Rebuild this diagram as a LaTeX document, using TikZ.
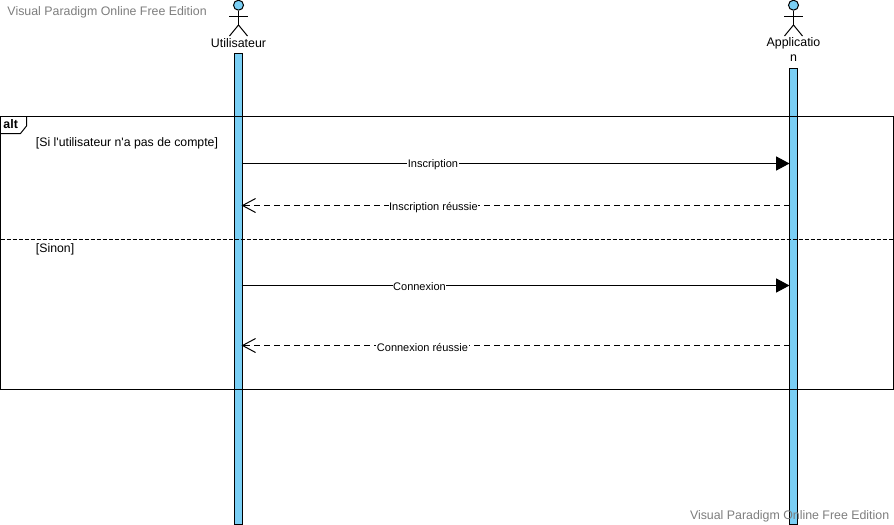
\documentclass[tikz,border=0pt]{standalone}
\usepackage{fontspec}
\setmainfont{Liberation Sans}[Ligatures=TeXOff]
\usetikzlibrary{arrows.meta}
\definecolor{barblue}{RGB}{122,207,245}
\definecolor{markgray}{RGB}{125,125,125}
\tikzset{
    lifebar/.style={draw, fill=barblue, rectangle, minimum width=6pt, inner sep=0pt, outer sep=0pt, anchor=north},
    head/.style={draw, fill=barblue, circle, minimum size=7.5pt, inner sep=0pt},
    msg/.style={fill=white, inner sep=0.4pt, font=\fontsize{8.25}{10}\selectfont},
    guard/.style={anchor=west, inner sep=0pt, font=\fontsize{9.2}{11}\selectfont},
    actorname/.style={inner sep=0pt, font=\fontsize{9.3}{11}\selectfont},
    call/.style={-{Triangle[length=10pt,width=10.5pt]}},
    reply/.style={dashed, dash pattern=on 4.5pt off 3pt, -{Straight Barb[length=9.75pt,width=10.5pt,line width=0.75pt]}},
    watermark/.style={anchor=west, inner sep=0pt, text=markgray, font=\fontsize{9.28}{11}\selectfont}
}

\begin{document}
\begin{tikzpicture}[x=0.75pt,y=-0.75pt,line width=0.75pt]
\useasboundingbox (0,0) rectangle (894,525);

% Lifelines
\node [lifebar, minimum height=353.1pt] (barU) at (238.5,53.5){};
\node [lifebar, minimum height=341.9pt] (barA) at (793.5,68.5){};

% Actor Utilisateur
\node [head] (headU) at (238.5,5.2){};
\coordinate (hipU) at (238.5,25);
\coordinate (handUl) at (229,16);
\coordinate (handUr) at (248,16);
\coordinate (footUl) at (229.5,36);
\coordinate (footUr) at (247.5,36);
\draw (headU) -- (hipU);
\draw (handUl) -- (handUr);
\draw (footUl) -- (hipU) -- (footUr);
\node [actorname] (nameU) at (238.5,43){Utilisateur};

% Actor Application
\node [head] (headA) at (793.5,5.2){};
\coordinate (hipA) at (793.5,25);
\coordinate (handAl) at (784,16);
\coordinate (handAr) at (803,16);
\coordinate (footAl) at (784.5,36);
\coordinate (footAr) at (802.5,36);
\draw (headA) -- (hipA);
\draw (handAl) -- (handAr);
\draw (footAl) -- (hipA) -- (footAr);
\node [actorname] (nameA) at (793.5,43){Applicatio};
\node [actorname] (nameAb) at (793.5,58){n};

% Frame alt
\node [draw, rectangle, minimum width=669.75pt, minimum height=204.4pt, inner sep=0pt, outer sep=0pt, anchor=north west] (frame) at (0.5,116.5){};
\coordinate (tabA) at (26.5,116.5);
\coordinate (tabB) at (26.5,126);
\coordinate (tabC) at (20.5,133.5);
\coordinate (tabD) at (0.5,133.5);
\draw (tabA) -- (tabB) -- (tabC) -- (tabD);
\node [anchor=west, inner sep=0pt, font=\fontsize{9.3}{11}\selectfont\bfseries] (alt) at (3,124){alt};
\coordinate (sepL) at (0.5,239.5);
\coordinate (sepR) at (893.5,239.5);
\draw [dashed, dash pattern=on 3.2pt off 1.3pt] (sepL) -- (sepR);
\node [guard] (guardA) at (35.5,143.5){[Si l'utilisateur n'a pas de compte]};
\node [guard] (guardB) at (35.5,249.5){[Sinon]};

% Messages
\coordinate (insU) at (241.5,163.5);
\coordinate (insA) at (789.5,163.5);
\coordinate (okU) at (241.5,205.5);
\coordinate (okA) at (789.5,205.5);
\coordinate (conU) at (241.5,285.5);
\coordinate (conA) at (789.5,285.5);
\coordinate (coU) at (241.5,345.5);
\coordinate (coA) at (789.5,345.5);
\draw [call] (insU) -- (insA);
\draw [reply] (okA) -- (okU);
\draw [call] (conU) -- (conA);
\draw [reply] (coA) -- (coU);
\node [msg] (msgA) at (433,165){Inscription};
\node [msg] (msgB) at (433.5,207.5){Inscription réussie};
\node [msg] (msgC) at (419.5,286.5){Connexion};
\node [msg] (msgD) at (422.5,347.5){Connexion réussie};

% Free edition marks
\node [watermark] (markA) at (7,12){Visual Paradigm Online Free Edition};
\node [watermark] (markB) at (689.5,516){Visual Paradigm Online Free Edition};

\end{tikzpicture}
\end{document}
